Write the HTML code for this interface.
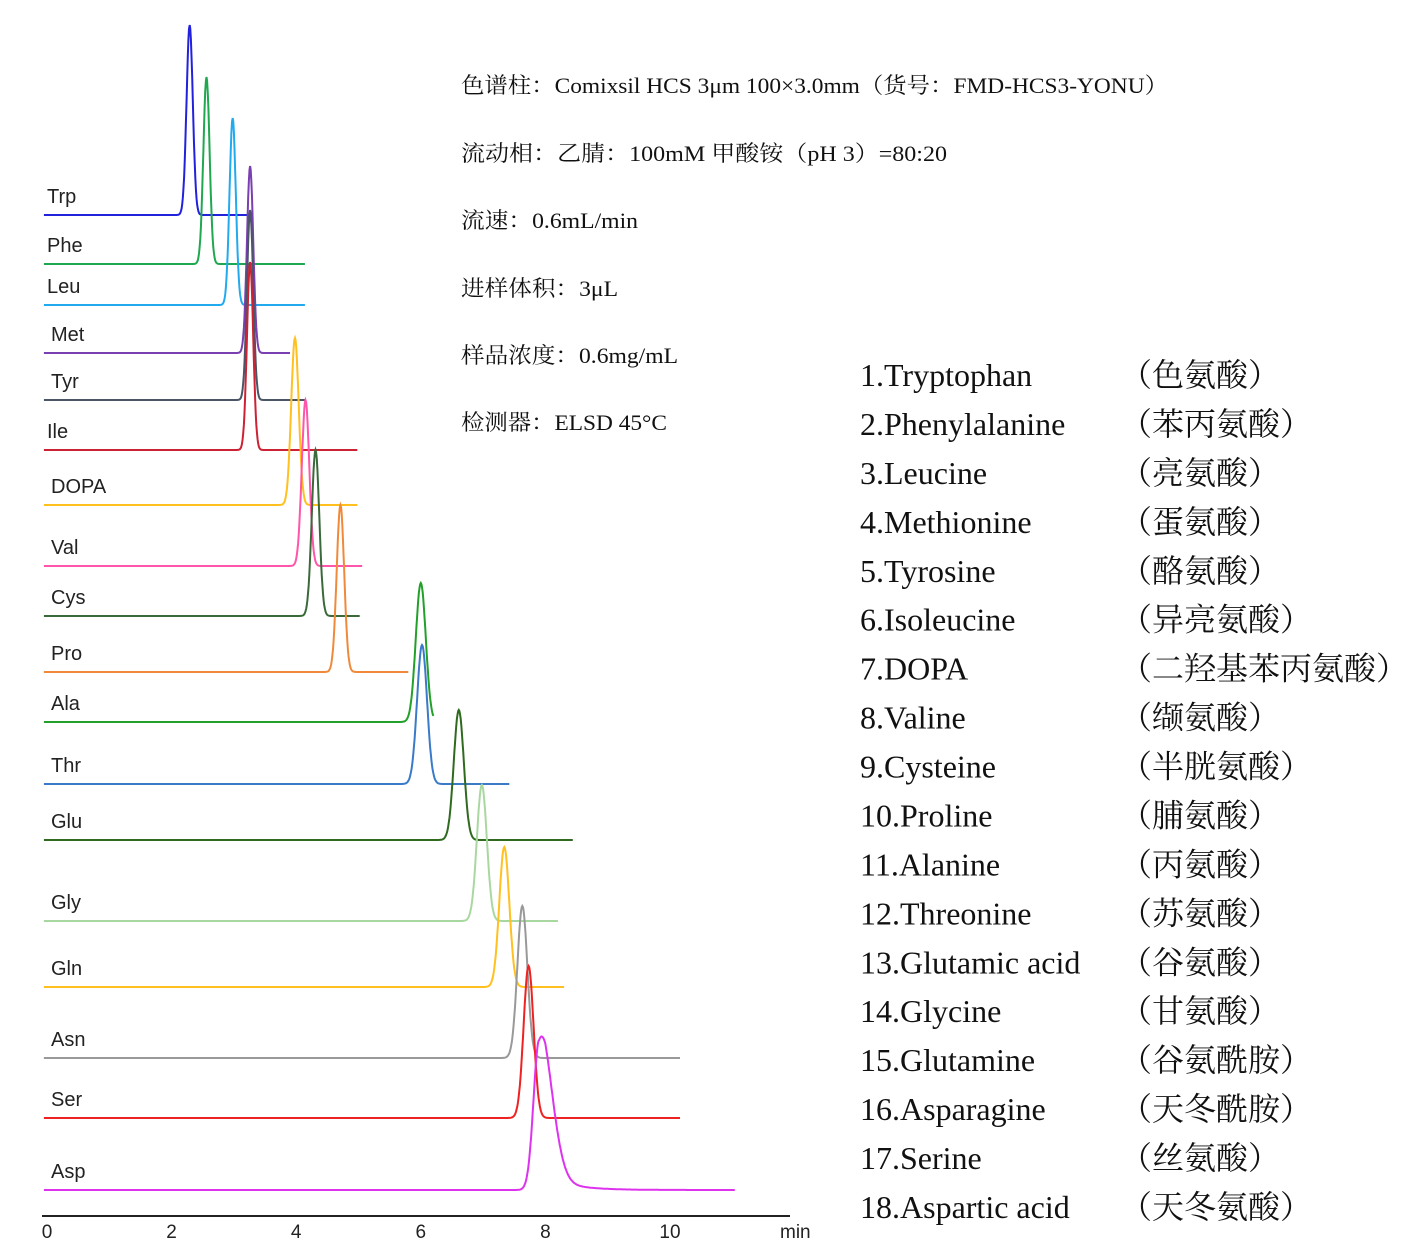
<!DOCTYPE html>
<html><head><meta charset="utf-8"><style>
body{margin:0;background:#fff}
svg{display:block}
.lab{font-family:"Liberation Sans",sans-serif;font-size:20px;fill:#222}
.info{font-family:"Liberation Serif","Noto Serif CJK SC",serif;font-size:22px;fill:#111}
.lst{font-family:"Liberation Serif","Noto Serif CJK SC",serif;font-size:32px;fill:#111}
.tick{font-family:"Liberation Sans",sans-serif;font-size:19px;fill:#222}
</style></head><body>
<svg id="chart" width="1409" height="1254" viewBox="0 0 1409 1254" xmlns="http://www.w3.org/2000/svg">
<g id="traces"></g>
<g id="axis"></g>
<g>
<text class="info" x="461" y="93" textLength="707" lengthAdjust="spacingAndGlyphs">色谱柱：Comixsil HCS 3μm 100×3.0mm（货号：FMD-HCS3-YONU）</text>
<text class="info" x="461" y="161" textLength="486" lengthAdjust="spacingAndGlyphs">流动相：乙腈：100mM  甲酸铵（pH 3）=80:20</text>
<text class="info" x="461" y="228" textLength="177" lengthAdjust="spacingAndGlyphs">流速：0.6mL/min</text>
<text class="info" x="461" y="296" textLength="157" lengthAdjust="spacingAndGlyphs">进样体积：3μL</text>
<text class="info" x="461" y="363" textLength="217" lengthAdjust="spacingAndGlyphs">样品浓度：0.6mg/mL</text>
<text class="info" x="461" y="430" textLength="206" lengthAdjust="spacingAndGlyphs">检测器：ELSD 45°C</text>
</g>
<g id="list"></g>
</svg>
<script>
const names=["Trp","Phe","Leu","Met","Tyr","Ile","DOPA","Val","Cys","Pro","Ala","Thr","Glu","Gly","Gln","Asn","Ser","Asp"];
const colors=["#2222dd","#1fa84f","#22aaee","#7a3fb0","#4a5566","#cc2233","#ffc020","#ff55aa","#3a6a3a","#f08a3a","#22a02a","#3a7ac8","#2f6a1f","#a8d8a0","#ffc020","#999999","#ee2222","#dd33ee"];
const baselines=[215,264,305,353,400,450,505,566,616,672,722,784,840,921,987,1058,1118,1190];
const retention=[2.29,2.56,2.98,3.26,3.26,3.26,3.98,4.15,4.31,4.71,6.0,6.02,6.61,6.98,7.34,7.63,7.73,7.9];
const heights=[190,187,187,187,190,188,167,166,166,167,139,139,130,136,140,152,152,150];
const sigmas=[0.05,0.05,0.05,0.05,0.05,0.05,0.06,0.06,0.06,0.06,0.08,0.08,0.08,0.08,0.08,0.08,0.08,0.09];
const endTimes=[3.26,4.14,4.14,3.9,4.14,4.98,4.98,5.06,5.02,5.8,6.2,7.42,8.44,8.2,8.3,10.16,10.16,11.04];
const tickVals=[0,2,4,6,8,10];
const listEn=["1.Tryptophan","2.Phenylalanine","3.Leucine","4.Methionine","5.Tyrosine","6.Isoleucine","7.DOPA","8.Valine","9.Cysteine","10.Proline","11.Alanine","12.Threonine","13.Glutamic acid","14.Glycine","15.Glutamine","16.Asparagine","17.Serine","18.Aspartic acid"];
const listCn=["（色氨酸）","（苯丙氨酸）","（亮氨酸）","（蛋氨酸）","（酪氨酸）","（异亮氨酸）","（二羟基苯丙氨酸）","（缬氨酸）","（半胱氨酸）","（脯氨酸）","（丙氨酸）","（苏氨酸）","（谷氨酸）","（甘氨酸）","（谷氨酰胺）","（天冬酰胺）","（丝氨酸）","（天冬氨酸）"];
const NS="http://www.w3.org/2000/svg";
const x=t=>47+t*62.3;
const tr=document.getElementById('traces');
names.forEach((n,i)=>{
  let d="";
  for(let t=-0.05;t<=endTimes[i]+1e-6;t+=0.01){
    const dt=t-retention[i];
    let s=sigmas[i];
    if(i===17&&dt>0) s=sigmas[i]*2.2;
    let v=heights[i]*Math.exp(-dt*dt/(2*s*s));
    if(i===17&&dt>0) v+=heights[i]*0.12*Math.exp(-dt/0.4)*(dt>0.1?1:dt/0.1);
    const y=baselines[i]-v;
    d+=(d?"L":"M")+x(t).toFixed(1)+" "+y.toFixed(1);
  }
  const p=document.createElementNS(NS,'path');
  p.setAttribute('d',d);p.setAttribute('fill','none');p.setAttribute('stroke',colors[i]);p.setAttribute('stroke-width','2');
  
  
  tr.appendChild(p);
  const tx=document.createElementNS(NS,'text');
  tx.setAttribute('class','lab');tx.setAttribute('x',i<3||i===5?47:51);tx.setAttribute('y',baselines[i]-12);
  tx.textContent=n;
  
  
  tr.appendChild(tx);
});
const ax=document.getElementById('axis');
const line=document.createElementNS(NS,'path');
line.setAttribute('d','M42 1216L790 1216');line.setAttribute('stroke','#222');line.setAttribute('stroke-width','2');


ax.appendChild(line);
tickVals.forEach(v=>{
  const t=document.createElementNS(NS,'text');
  t.setAttribute('class','tick');t.setAttribute('x',x(v));t.setAttribute('y',1238);t.setAttribute('text-anchor','middle');
  t.textContent=v;
  
  
  ax.appendChild(t);
});
const mt=document.createElementNS(NS,'text');
mt.setAttribute('class','tick');mt.setAttribute('x',780);mt.setAttribute('y',1238);mt.textContent='min';


ax.appendChild(mt);
const ls=document.getElementById('list');
listEn.forEach((e,i)=>{
  const y=386+i*48.94;
  const a=document.createElementNS(NS,'text');
  a.setAttribute('class','lst');a.setAttribute('x',860);a.setAttribute('y',y);a.textContent=e;
  
  
  ls.appendChild(a);
  const b=document.createElementNS(NS,'text');
  b.setAttribute('class','lst');b.setAttribute('x',1120);b.setAttribute('y',y);b.textContent=listCn[i];
  
  
  ls.appendChild(b);
});
</script>
</body></html>
